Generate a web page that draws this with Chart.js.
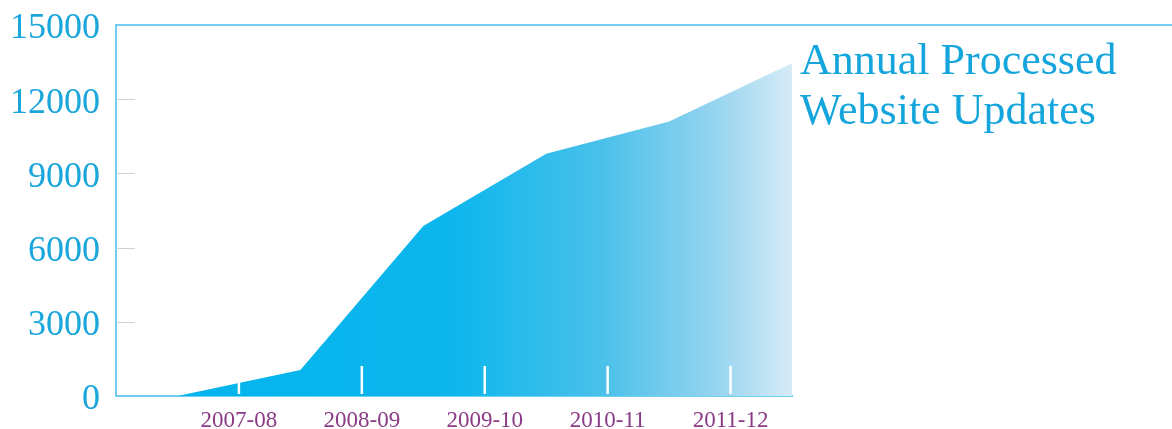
<!DOCTYPE html>
<html>
<head>
<meta charset="utf-8">
<script src="https://cdn.jsdelivr.net/npm/chart.js@4"></script>
<style>
    html, body { margin: 0; padding: 0; background: #fff; }
    #wrap { position: relative; width: 1172px; height: 429px; }
    #title {
        position: absolute;
        left: 800px;
        top: 35px;
        font-family: "Liberation Serif", serif;
        font-size: 44px;
        line-height: 50px;
        color: #14a5dc;
        white-space: nowrap;
    }
</style>
</head>
<body>
<div id="wrap">
    <canvas id="updatesChart" width="1172" height="429"></canvas>
    <div id="title">Annual Processed<br>Website Updates</div>
</div>
<script>
// Данные графика
const yearLabels = ['2007-08', '2008-09', '2009-10', '2010-11', '2011-12'];
const yearTickPos = [1, 2, 3, 4, 5];
const pointPos = [0.5, 1.5, 2.5, 3.5, 4.5, 5.5];
const updates = [0, 1050, 6870, 9790, 11100, 13450];
const yTicks = [0, 3000, 6000, 9000, 12000, 15000];

const axisBlue = '#74cdee';

function makeGradient(chart) {
    const { ctx, chartArea } = chart;
    if (!chartArea) return '#00b4ed';
    const g = ctx.createLinearGradient(chartArea.left, 0, chartArea.right, 0);
    g.addColorStop(0, '#00b4ed');
    g.addColorStop(0.5, '#0db6ed');
    g.addColorStop(0.72, '#4ac1ea');
    g.addColorStop(0.88, '#92d3ef');
    g.addColorStop(1, '#d6ebf6');
    return g;
}

// Рисуем засечки и верхнюю линию
const marksPlugin = {
    id: 'marks',
    afterDatasetsDraw(chart) {
        const { ctx, chartArea, scales } = chart;
        ctx.save();
        // серые засечки по оси Y
        ctx.strokeStyle = '#cfcfcf';
        ctx.lineWidth = 1;
        yTicks.slice(1, -1).forEach(v => {
            const y = Math.round(scales.y.getPixelForValue(v)) + 0.5;
            ctx.beginPath();
            ctx.moveTo(chartArea.left, y);
            ctx.lineTo(chartArea.left + 19, y);
            ctx.stroke();
        });
        // белые засечки по оси X
        ctx.strokeStyle = '#ffffff';
        ctx.lineWidth = 2.5;
        yearTickPos.forEach(v => {
            const x = scales.x.getPixelForValue(v);
            ctx.beginPath();
            ctx.moveTo(x, chartArea.bottom - 30);
            ctx.lineTo(x, chartArea.bottom - 2);
            ctx.stroke();
        });
        // верхняя линия до правого края
        ctx.strokeStyle = axisBlue;
        ctx.lineWidth = 2;
        ctx.beginPath();
        ctx.moveTo(chartArea.left, chartArea.top);
        ctx.lineTo(chart.width, chartArea.top);
        ctx.stroke();
        ctx.restore();
    }
};

const ctx = document.getElementById('updatesChart').getContext('2d');
new Chart(ctx, {
    type: 'line',
    data: {
        datasets: [{
            label: 'Annual Processed Website Updates',
            data: pointPos.map((x, i) => ({ x: x, y: updates[i] })),
            fill: 'origin',
            backgroundColor: context => makeGradient(context.chart),
            borderWidth: 0,
            pointRadius: 0,
            tension: 0
        }]
    },
    options: {
        responsive: false,
        animation: false,
        events: [],
        layout: {
            padding: { top: 25, right: 380, left: 0, bottom: 0 }
        },
        plugins: {
            legend: { display: false },
            tooltip: { enabled: false }
        },
        scales: {
            x: {
                type: 'linear',
                min: 0,
                max: 5.5,
                grid: { display: false },
                border: { display: true, color: axisBlue, width: 2 },
                afterBuildTicks: scale => {
                    scale.ticks = yearTickPos.map(v => ({ value: v }));
                },
                afterFit: scale => {
                    scale.height = 33;
                    scale.paddingLeft = 0;
                    scale.paddingRight = 0;
                },
                ticks: {
                    autoSkip: false,
                    maxRotation: 0,
                    padding: 3,
                    color: '#8a3a86',
                    font: { family: 'Liberation Serif', size: 23 },
                    callback: value => yearLabels[yearTickPos.indexOf(value)] || ''
                }
            },
            y: {
                min: 0,
                max: 15000,
                grid: { display: false },
                border: { display: true, color: axisBlue, width: 2 },
                afterBuildTicks: scale => {
                    scale.ticks = yTicks.map(v => ({ value: v }));
                },
                afterFit: scale => {
                    scale.width = 116;
                    scale.paddingTop = 0;
                    scale.paddingBottom = 0;
                },
                ticks: {
                    padding: 8,
                    labelOffset: 4,
                    color: '#1ba6dc',
                    font: { family: 'Liberation Serif', size: 36 },
                    callback: value => String(value)
                }
            }
        }
    },
    plugins: [marksPlugin]
});
</script>
</body>
</html>
